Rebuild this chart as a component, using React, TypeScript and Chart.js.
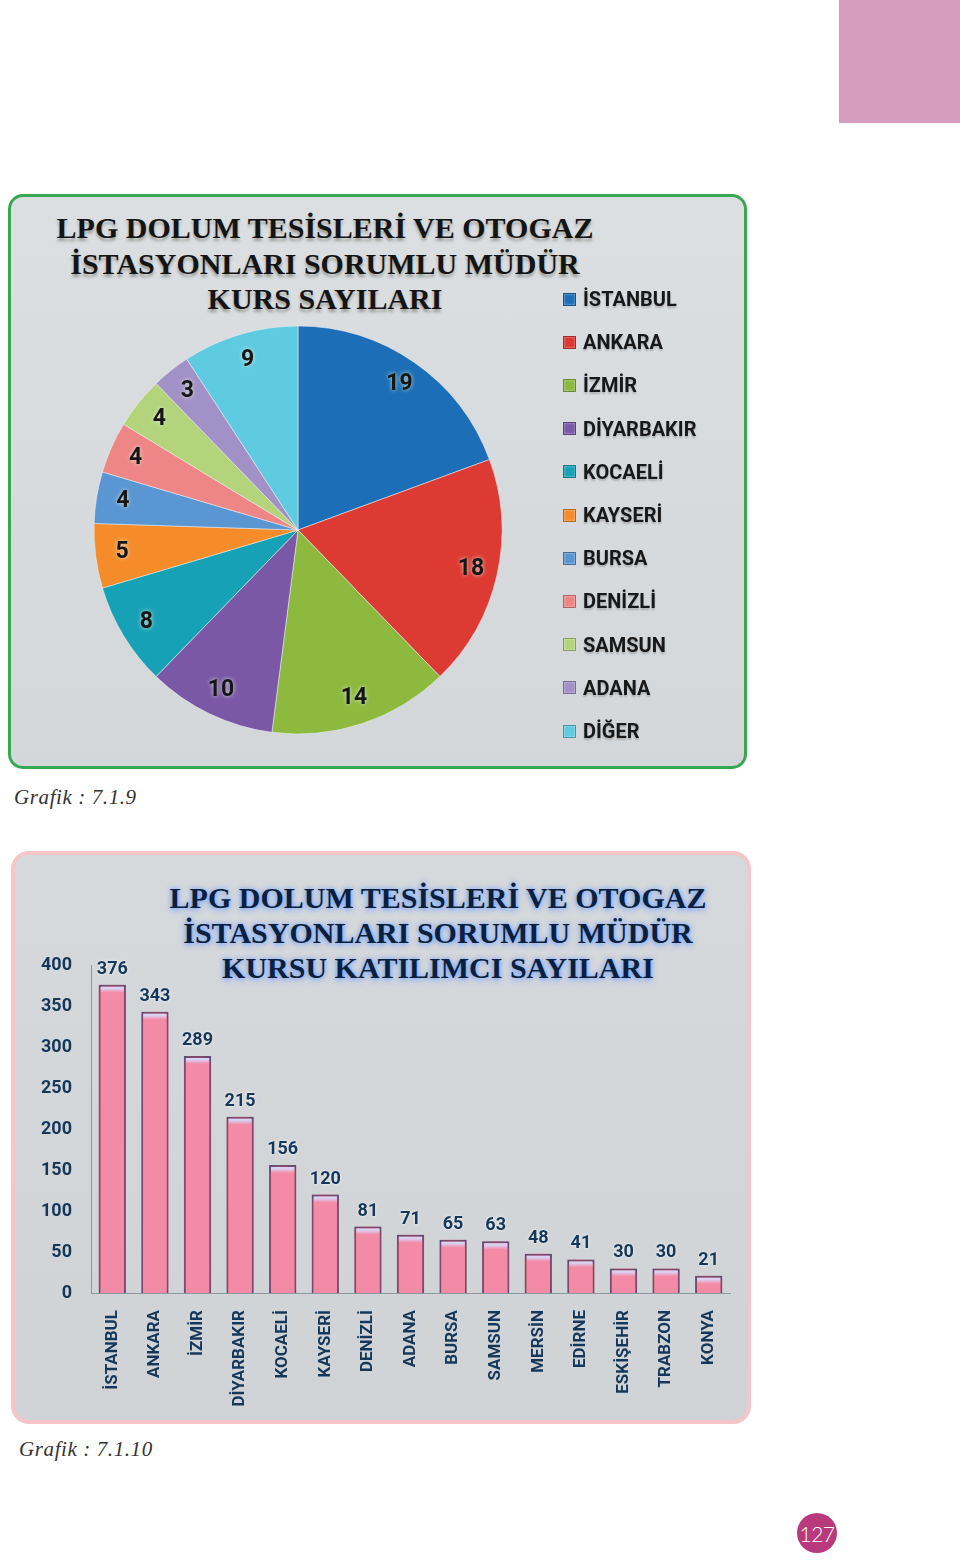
import React, { useEffect, useRef } from "react";
import { Chart, registerables } from "chart.js";

Chart.register(...registerables);

// ---------- Data ----------
const pieTitleLines = ["LPG DOLUM TESİSLERİ VE OTOGAZ", "İSTASYONLARI SORUMLU MÜDÜR", "KURS SAYILARI"];
const pieCities = ["İSTANBUL", "ANKARA", "İZMİR", "DİYARBAKIR", "KOCAELİ", "KAYSERİ", "BURSA", "DENİZLİ", "SAMSUN", "ADANA", "DİĞER"];
const pieCounts = [19, 18, 14, 10, 8, 5, 4, 4, 4, 3, 9];
const pieColors = ["#1c6fb6", "#dc3a32", "#8cb93e", "#7a58a6", "#17a1b6", "#f68c29", "#5a96d2", "#ee8686", "#b3d47b", "#a291c7", "#5ecbe0"];

const barTitleLines = ["LPG DOLUM TESİSLERİ VE OTOGAZ", "İSTASYONLARI SORUMLU MÜDÜR", "KURSU KATILIMCI SAYILARI"];
const barCities = ["İSTANBUL", "ANKARA", "İZMİR", "DİYARBAKIR", "KOCAELİ", "KAYSERİ", "DENİZLİ", "ADANA", "BURSA", "SAMSUN", "MERSİN", "EDİRNE", "ESKİŞEHİR", "TRABZON", "KONYA"];
const barCounts = [376, 343, 289, 215, 156, 120, 81, 71, 65, 63, 48, 41, 30, 30, 21];
const barAxisMin = 0;
const barAxisMax = 400;
const barAxisStep = 50;

const caption1 = "Grafik : 7.1.9";
const caption2 = "Grafik : 7.1.10";
const pageNumber = "127";

const sansFamily = "Roboto";

// ---------- Plugins ----------
const pieLabelPlugin = {
  id: "pieLabels",
  afterDatasetsDraw(chart: any) {
    const ctx = chart.ctx;
    const meta = chart.getDatasetMeta(0);
    ctx.save();
    ctx.font = `bold 23px ${sansFamily}`;
    ctx.textAlign = "center";
    ctx.textBaseline = "middle";
    meta.data.forEach((el: any, i: number) => {
      const p = el.getProps(["x", "y", "startAngle", "endAngle", "outerRadius"], true);
      const mid = (p.startAngle + p.endAngle) / 2;
      const r = p.outerRadius * 0.87;
      const px = p.x + Math.cos(mid) * r;
      const py = p.y + Math.sin(mid) * r;
      ctx.shadowColor = "rgba(225,235,215,0.9)";
      ctx.shadowBlur = 4;
      ctx.fillStyle = "#161616";
      ctx.fillText(String(chart.data.datasets[0].data[i]), px, py);
    });
    ctx.restore();
  },
};

const barGlowPlugin = {
  id: "barGlow",
  beforeDatasetsDraw(chart: any) {
    const c = chart.ctx;
    c.save();
    c.shadowColor = "rgba(255,70,70,0.85)";
    c.shadowBlur = 10;
  },
  afterDatasetsDraw(chart: any) {
    chart.ctx.restore();
  },
};

const barValuePlugin = {
  id: "barValues",
  afterDatasetsDraw(chart: any) {
    const ctx = chart.ctx;
    const meta = chart.getDatasetMeta(0);
    ctx.save();
    ctx.font = `bold 18px ${sansFamily}`;
    ctx.textAlign = "center";
    ctx.textBaseline = "alphabetic";
    ctx.fillStyle = "#15375a";
    ctx.shadowColor = "rgba(255,255,255,0.85)";
    ctx.shadowBlur = 3;
    meta.data.forEach((el: any, i: number) => {
      ctx.fillText(String(chart.data.datasets[0].data[i]), el.x, el.y - 11);
    });
    ctx.restore();
  },
};

function PieChart() {
  const ref = useRef<HTMLCanvasElement>(null);
  useEffect(() => {
    if (!ref.current) return;
    const chart = new Chart(ref.current, {
      type: "pie",
      data: {
        labels: pieCities,
        datasets: [
          {
            data: pieCounts,
            backgroundColor: pieColors,
            borderColor: "rgba(235,238,240,0.55)",
            borderWidth: 1,
            radius: 204,
          } as any,
        ],
      },
      options: {
        animation: false,
        responsive: false,
        maintainAspectRatio: false,
        layout: { padding: { left: 86, right: 245, top: 132, bottom: 35 } },
        plugins: { legend: { display: false }, tooltip: { enabled: false }, title: { display: false } },
      },
      plugins: [pieLabelPlugin],
    });
    return () => chart.destroy();
  }, []);
  return (
    <canvas
      ref={ref}
      width={739}
      height={575}
      style={{ position: "absolute", left: 8, top: 194, width: 739, height: 575 }}
    />
  );
}

function BarChart() {
  const ref = useRef<HTMLCanvasElement>(null);
  useEffect(() => {
    if (!ref.current) return;
    const chart = new Chart(ref.current, {
      type: "bar",
      data: {
        labels: barCities,
        datasets: [
          {
            data: barCounts,
            backgroundColor: (c: any) => {
              const ch = c.chart;
              if (!ch.chartArea || c.raw == null) return "#f38aa6";
              const top = ch.scales.y.getPixelForValue(c.raw);
              const g = ch.ctx.createLinearGradient(0, top, 0, top + 8);
              g.addColorStop(0, "#d9d3f3");
              g.addColorStop(0.45, "#d9d3f3");
              g.addColorStop(1, "#f38aa6");
              return g;
            },
            borderColor: "#3f4c82",
            borderWidth: 2,
            barPercentage: 0.64,
            categoryPercentage: 1,
          } as any,
        ],
      },
      options: {
        animation: false,
        responsive: false,
        maintainAspectRatio: false,
        layout: { padding: { top: 114, right: 21, bottom: 0, left: 0 } },
        plugins: { legend: { display: false }, tooltip: { enabled: false }, title: { display: false } },
        scales: {
          x: {
            grid: { display: false, drawTicks: false },
            border: { display: true, color: "#8d96a1", width: 1 },
            ticks: {
              autoSkip: false,
              maxRotation: 90,
              minRotation: 90,
              padding: 17,
              color: "#15375a",
              font: { family: sansFamily, weight: "bold", size: 17 },
            },
            afterFit: (s: any) => {
              s.height = 131;
            },
          },
          y: {
            min: barAxisMin,
            max: barAxisMax,
            grid: { display: false, drawTicks: false },
            border: { display: true, color: "#8d96a1", width: 1 },
            ticks: {
              stepSize: barAxisStep,
              padding: 19,
              color: "#15375a",
              font: { family: sansFamily, weight: "bold", size: 18 },
            },
            afterFit: (s: any) => {
              s.width = 80;
            },
          },
        },
      },
      plugins: [barGlowPlugin, barValuePlugin],
    });
    return () => chart.destroy();
  }, []);
  return (
    <canvas
      ref={ref}
      width={740}
      height={573}
      style={{ position: "absolute", left: 11, top: 851, width: 740, height: 573 }}
    />
  );
}

export default function App() {
  return (
    <div
      style={{
        position: "absolute",
        left: 0,
        top: 0,
        width: 960,
        height: 1564,
        background: "#ffffff",
        overflow: "hidden",
      }}
    >
      {/* top-right decorative block */}
      <div style={{ position: "absolute", left: 839, top: 0, width: 121, height: 123, background: "#d59cbc" }} />

      {/* Pie panel */}
      <div
        style={{
          position: "absolute",
          left: 8,
          top: 194,
          width: 739,
          height: 575,
          boxSizing: "border-box",
          border: "3px solid #37a851",
          borderRadius: 15,
          background: "linear-gradient(180deg, #dcdfe2 0%, #d4d7da 100%)",
        }}
      />
      <div
        style={{
          position: "absolute",
          left: 25,
          top: 210,
          width: 600,
          textAlign: "center",
          fontFamily: "'Liberation Serif', 'Times New Roman', serif",
          fontWeight: "bold",
          fontSize: 30,
          lineHeight: "35.5px",
          color: "#141414",
          textShadow: "0 3px 3px rgba(60,60,40,0.4)",
          whiteSpace: "nowrap",
        }}
      >
        {pieTitleLines.map((l, i) => (
          <div key={i}>{l}</div>
        ))}
      </div>
      <PieChart />
      {pieCities.map((name, i) => (
        <div
          key={name}
          style={{
            position: "absolute",
            left: 563,
            top: 299 + i * 43.2 - 12,
            height: 24,
            display: "flex",
            alignItems: "center",
            whiteSpace: "nowrap",
          }}
        >
          <div
            style={{
              width: 13,
              height: 13,
              boxSizing: "border-box",
              background: pieColors[i],
              border: "1px solid rgba(0,0,0,0.25)",
              boxShadow: "inset 0 0 2px rgba(255,255,255,0.7)",
              marginRight: 7,
            }}
          />
          <span
            style={{
              fontFamily: `${sansFamily}, sans-serif`,
              fontWeight: "bold",
              fontSize: 20,
              color: "#181818",
              textShadow: "0 2px 2px rgba(0,0,0,0.2)",
            }}
          >
            {name}
          </span>
        </div>
      ))}

      <div
        style={{
          position: "absolute",
          left: 14,
          top: 784,
          fontFamily: "'Liberation Serif', 'Times New Roman', serif",
          fontStyle: "italic",
          fontSize: 21,
          letterSpacing: 0.6,
          color: "#333",
          lineHeight: "26px",
          whiteSpace: "nowrap",
        }}
      >
        {caption1}
      </div>

      {/* Bar panel */}
      <div
        style={{
          position: "absolute",
          left: 11,
          top: 851,
          width: 740,
          height: 573,
          boxSizing: "border-box",
          border: "4px solid #f6c5c9",
          borderRadius: 18,
          background: "linear-gradient(180deg, #d6d9dc 0%, #d0d3d6 100%)",
        }}
      />
      <div
        style={{
          position: "absolute",
          left: 138,
          top: 880,
          width: 600,
          textAlign: "center",
          fontFamily: "'Liberation Serif', 'Times New Roman', serif",
          fontWeight: "bold",
          fontSize: 30,
          lineHeight: "35px",
          color: "#0c1f3c",
          textShadow: "0 0 5px rgba(110,160,255,0.95), 0 2px 6px rgba(110,160,255,0.7)",
          whiteSpace: "nowrap",
        }}
      >
        {barTitleLines.map((l, i) => (
          <div key={i}>{l}</div>
        ))}
      </div>
      <BarChart />

      <div
        style={{
          position: "absolute",
          left: 19,
          top: 1436,
          fontFamily: "'Liberation Serif', 'Times New Roman', serif",
          fontStyle: "italic",
          fontSize: 21,
          letterSpacing: 0.6,
          color: "#333",
          lineHeight: "26px",
          whiteSpace: "nowrap",
        }}
      >
        {caption2}
      </div>

      {/* page number */}
      <div
        style={{
          position: "absolute",
          left: 797,
          top: 1513,
          width: 40,
          height: 40,
          borderRadius: "50%",
          background: "#b93a7c",
          color: "#fff",
          display: "flex",
          alignItems: "center",
          justifyContent: "center",
          fontFamily: "Lato, sans-serif",
          fontWeight: 300,
          fontSize: 21,
          letterSpacing: -0.5,
        }}
      >
        {pageNumber}
      </div>
    </div>
  );
}
